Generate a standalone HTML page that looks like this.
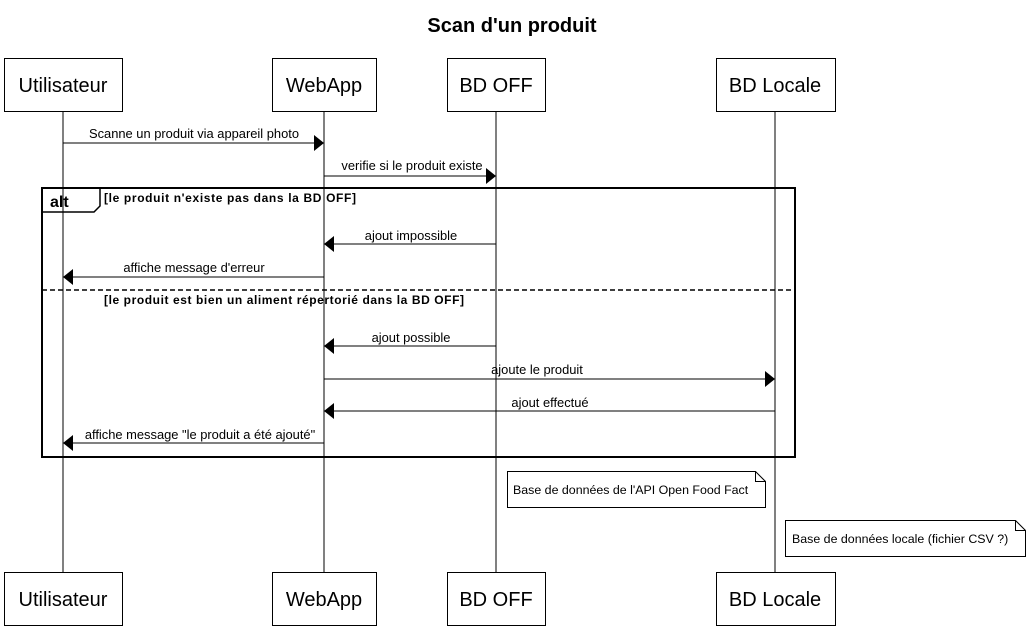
<!DOCTYPE html>
<html><head><meta charset="utf-8"><style>
html,body{margin:0;padding:0;background:#fff;}
svg{display:block;font-family:"Liberation Sans",Arial,sans-serif;}
</style></head><body>
<svg width="1030" height="628" viewBox="0 0 1030 628" xmlns="http://www.w3.org/2000/svg">
<rect width="1030" height="628" fill="#fff"/>
<text x="512" y="32" text-anchor="middle" font-size="20" font-weight="bold">Scan d'un produit</text>
<g stroke="#000" stroke-width="1" fill="none">
<line x1="63" y1="111" x2="63" y2="572"/>
<line x1="324" y1="111" x2="324" y2="572"/>
<line x1="496" y1="111" x2="496" y2="572"/>
<line x1="775" y1="111" x2="775" y2="572"/>
</g>
<g stroke="#000" stroke-width="1" fill="#fff">
<rect x="4.5" y="58.5" width="118" height="53"/>
<rect x="272.5" y="58.5" width="104" height="53"/>
<rect x="447.5" y="58.5" width="98" height="53"/>
<rect x="716.5" y="58.5" width="119" height="53"/>
<rect x="4.5" y="572.5" width="118" height="53"/>
<rect x="272.5" y="572.5" width="104" height="53"/>
<rect x="447.5" y="572.5" width="98" height="53"/>
<rect x="716.5" y="572.5" width="119" height="53"/>
</g>
<g font-size="20" text-anchor="middle">
<text x="63" y="92">Utilisateur</text>
<text x="324" y="92">WebApp</text>
<text x="496" y="92">BD OFF</text>
<text x="775" y="92">BD Locale</text>
<text x="63" y="606">Utilisateur</text>
<text x="324" y="606">WebApp</text>
<text x="496" y="606">BD OFF</text>
<text x="775" y="606">BD Locale</text>
</g>
<g stroke="#000" fill="none">
<rect x="42" y="188" width="753" height="269" stroke-width="2"/>
<path d="M42 212 H94 L100 206 V188" stroke-width="1.5"/>
<line x1="42" y1="290" x2="795" y2="290" stroke-width="1.5" stroke-dasharray="5,3"/>
</g>
<text x="50" y="207" font-size="16" font-weight="bold">alt</text>
<text x="104" y="202" font-size="12" font-weight="bold" textLength="252" lengthAdjust="spacing">[le produit n'existe pas dans la BD OFF]</text>
<text x="104" y="304" font-size="12" font-weight="bold" textLength="360" lengthAdjust="spacing">[le produit est bien un aliment répertorié dans la BD OFF]</text>
<g stroke="#000" stroke-width="1">
<line x1="63" y1="143" x2="314" y2="143"/>
<line x1="324" y1="176" x2="486" y2="176"/>
<line x1="496" y1="244" x2="334" y2="244"/>
<line x1="324" y1="277" x2="73" y2="277"/>
<line x1="496" y1="346" x2="334" y2="346"/>
<line x1="324" y1="379" x2="765" y2="379"/>
<line x1="775" y1="411" x2="334" y2="411"/>
<line x1="324" y1="443" x2="73" y2="443"/>
</g>
<g fill="#000">
<polygon points="314,135 324,143 314,151"/>
<polygon points="486,168 496,176 486,184"/>
<polygon points="334,236 324,244 334,252"/>
<polygon points="73,269 63,277 73,285"/>
<polygon points="334,338 324,346 334,354"/>
<polygon points="765,371 775,379 765,387"/>
<polygon points="334,403 324,411 334,419"/>
<polygon points="73,435 63,443 73,451"/>
</g>
<g font-size="12.9" text-anchor="middle">
<text x="194" y="138">Scanne un produit via appareil photo</text>
<text x="412" y="170">verifie si le produit existe</text>
<text x="411" y="240">ajout impossible</text>
<text x="194" y="272">affiche message d'erreur</text>
<text x="411" y="342">ajout possible</text>
<text x="537" y="374">ajoute le produit</text>
<text x="550" y="407">ajout effectué</text>
<text x="200" y="439">affiche message "le produit a été ajouté"</text>
</g>
<g stroke="#000" stroke-width="1" fill="#fff">
<path d="M507.5 471.5 H755.5 L765.5 481.5 V507.5 H507.5 Z"/>
<path d="M755.5 471.5 V481.5 H765.5" fill="none"/>
<path d="M785.5 520.5 H1015.5 L1025.5 530.5 V556.5 H785.5 Z"/>
<path d="M1015.5 520.5 V530.5 H1025.5" fill="none"/>
</g>
<g font-size="12.4">
<text x="513" y="494">Base de données de l'API Open Food Fact</text>
<text x="792" y="543">Base de données locale (fichier CSV ?)</text>
</g>
</svg>
</body></html>
